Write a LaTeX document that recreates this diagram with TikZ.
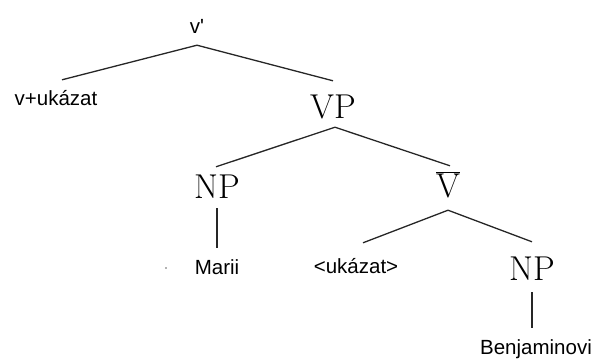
\documentclass[tikz,border=0pt]{standalone}
\usepackage{fontspec}
\newfontfamily\arialf{Liberation Sans}
\begin{document}
\begin{tikzpicture}[x=1pt,y=-1pt,
  serif/.style={font=\fontsize{34.5}{40}\selectfont, inner sep=0pt, text height=23.5pt, text depth=0pt, anchor=base},
  sans/.style={font=\arialf\fontsize{20.5}{24}\selectfont, inner sep=0pt, text height=15pt, text depth=4pt, anchor=base},
  branch/.style={line width=1.3pt, draw=black!85}]
\useasboundingbox (0,0) rectangle (593,359);
% nodes
\node[sans] (vprime) at (197,33) {v'};
\node[sans] (vuk) at (56,105) {v+ukázat};
\node[serif] (vp) at (333,118) {VP};
\node[serif] (np1) at (217,198) {NP};
\node[serif, text height=30pt] (vbar) at (448,197) {$\overline{\mbox{V}}$};
\node[sans] (marii) at (217,274) {Marii};
\node[sans] (uk) at (356,273) {<ukázat>};
\node[serif] (np2) at (532,280) {NP};
\node[sans] (benj) at (536,354) {Benjaminovi};
% branches
\draw[branch] ([yshift=-8pt]vprime.south) -- ([xshift=6pt,yshift=10pt]vuk.north);
\draw[branch] ([yshift=-8pt]vprime.south) -- ([yshift=13.5pt]vp.north);
\draw[branch] ([xshift=2pt,yshift=-9pt]vp.south) -- ([xshift=-1pt,yshift=7.5pt]np1.north);
\draw[branch] ([xshift=2pt,yshift=-9pt]vp.south) -- ([xshift=2pt,yshift=1pt]vbar.north);
\draw[branch] ([yshift=-10pt]np1.south) -- ([yshift=11pt]marii.north);
\draw[branch] ([yshift=-13pt]vbar.south) -- ([xshift=7pt,yshift=15pt]uk.north);
\draw[branch] ([yshift=-13pt]vbar.south) -- ([yshift=14.5pt]np2.north);
\draw[branch] ([yshift=-12pt]np2.south) -- ([xshift=-4pt,yshift=11pt]benj.north);
% stray dot
\fill[black!60] (166,268) circle (0.8pt);
\end{tikzpicture}
\end{document}
